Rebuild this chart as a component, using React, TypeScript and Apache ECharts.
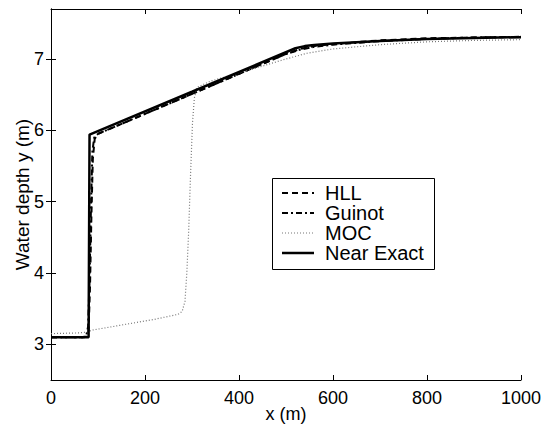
import React, { useEffect, useRef } from "react";
import * as echarts from "echarts";

const xTicks = [0, 200, 400, 600, 800, 1000];
const yTicks = [3, 4, 5, 6, 7];

const hllX = [0, 70, 76, 80, 83, 86, 89, 93, 100, 200, 300, 400, 500, 530, 560, 600, 700, 800, 900, 1000];
const hllY = [3.1, 3.1, 3.11, 3.2, 3.8, 4.8, 5.6, 5.88, 5.95, 6.23, 6.51, 6.79, 7.07, 7.14, 7.18, 7.21, 7.26, 7.29, 7.3, 7.31];

const guinotX = [0, 68, 75, 79, 82, 85, 88, 92, 100, 200, 300, 400, 500, 530, 560, 600, 700, 800, 900, 1000];
const guinotY = [3.1, 3.1, 3.12, 3.25, 3.9, 4.9, 5.7, 5.9, 5.95, 6.23, 6.51, 6.79, 7.07, 7.13, 7.17, 7.2, 7.25, 7.28, 7.3, 7.31];

const mocX = [0, 60, 72, 80, 88, 150, 220, 270, 279, 285, 289, 293, 297, 301, 305, 310, 340, 430, 500, 545, 600, 700, 800, 900, 1000];
const mocY = [3.15, 3.16, 3.17, 3.18, 3.2, 3.27, 3.35, 3.42, 3.46, 3.6, 4.0, 4.6, 5.4, 6.1, 6.45, 6.6, 6.69, 6.86, 7.0, 7.08, 7.14, 7.2, 7.24, 7.26, 7.27];

const exactX = [0, 80, 82, 300, 520, 540, 560, 600, 700, 800, 900, 1000];
const exactY = [3.1, 3.1, 5.94, 6.54, 7.15, 7.18, 7.195, 7.215, 7.25, 7.28, 7.295, 7.305];

const legendNames = ["HLL", "Guinot", "MOC", "Near Exact"];

const zip = (xs: number[], ys: number[]) => xs.map((x, i) => [x, ys[i]]);

const FONT = "Liberation Sans, Arial, Helvetica, sans-serif";

export default function App() {
  const ref = useRef<HTMLDivElement>(null);
  useEffect(() => {
    document.body.style.margin = "0";
    const chart = echarts.init(ref.current!, null, { renderer: "svg" });
    const axisLine = { show: true, lineStyle: { color: "#000", width: 1 } };
    const tick = { show: true, inside: true, length: 5, lineStyle: { color: "#000", width: 1 } };
    const styles = [
      { color: "#000", width: 2, type: [6, 4] as any },
      { color: "#000", width: 2, type: [6, 3, 2, 3] as any },
      { color: "#777", width: 1.2, type: [1, 2] as any },
      { color: "#000", width: 2.5, type: "solid" as any },
    ];
    const datas = [zip(hllX, hllY), zip(guinotX, guinotY), zip(mocX, mocY), zip(exactX, exactY)];
    const legendX = 272, legendY = 178, rowH = 20;
    const legendGraphics: any[] = [
      {
        type: "rect",
        shape: { x: legendX + 0.5, y: legendY + 0.5, width: 162, height: 91 },
        style: { fill: "#fff", stroke: "#000", lineWidth: 1 },
        z: 100,
      },
    ];
    legendNames.forEach((name, i) => {
      const cy = legendY + 15 + i * rowH;
      legendGraphics.push({
        type: "line",
        shape: { x1: legendX + 10, y1: cy, x2: legendX + 42, y2: cy },
        style: { stroke: styles[i].color, lineWidth: styles[i].width, lineDash: styles[i].type === "solid" ? null : styles[i].type },
        z: 101,
      });
      legendGraphics.push({
        type: "text",
        x: legendX + 53,
        y: cy,
        style: { text: name, fill: "#000", font: `20px ${FONT}`, textVerticalAlign: "middle", textBaseline: "middle" },
        z: 101,
      });
    });
    const fmt = (v: number) => String(v);
    chart.setOption({
      animation: false,
      backgroundColor: "#fff",
      textStyle: { fontFamily: FONT },
      grid: { left: 51, right: 21, top: 9, bottom: 48, containLabel: false, outerBoundsMode: "none" },
      xAxis: [
        {
          type: "value", min: 0, max: 1000, interval: 200, position: "bottom",
          axisLine, axisTick: tick, splitLine: { show: false },
          axisLabel: { color: "#000", fontSize: 18, fontFamily: FONT, margin: 9, formatter: fmt, customValues: xTicks },
          name: "x (m)", nameLocation: "middle", nameGap: 25, nameMoveOverlap: false,
          nameTextStyle: { color: "#000", fontSize: 18, fontFamily: FONT, verticalAlign: "top" },
        },
        {
          type: "value", min: 0, max: 1000, interval: 200, position: "top",
          axisLine, axisTick: tick, splitLine: { show: false }, axisLabel: { show: false },
        },
      ],
      yAxis: [
        {
          type: "value", min: 2.5, max: 7.7, position: "left",
          axisLine, splitLine: { show: false },
          axisTick: { ...tick, customValues: yTicks },
          axisLabel: { color: "#000", fontSize: 18, fontFamily: FONT, margin: 7, formatter: fmt, customValues: yTicks },
          name: "Water depth y (m)", nameLocation: "middle", nameGap: 19, nameMoveOverlap: false,
          nameTextStyle: { color: "#000", fontSize: 19, fontFamily: FONT, verticalAlign: "bottom" },
        },
        {
          type: "value", min: 2.5, max: 7.7, position: "right",
          axisLine, splitLine: { show: false },
          axisTick: { ...tick, customValues: yTicks },
          axisLabel: { show: false, customValues: yTicks },
        },
      ],
      series: legendNames.map((name, i) => ({
        name, type: "line", data: datas[i], showSymbol: false, symbol: "none",
        lineStyle: styles[i], xAxisIndex: 0, yAxisIndex: 0, z: i === 3 ? 5 : 3,
      })),
      graphic: legendGraphics,
    });
    return () => chart.dispose();
  }, []);
  return <div ref={ref} style={{ width: 542, height: 428 }} />;
}
